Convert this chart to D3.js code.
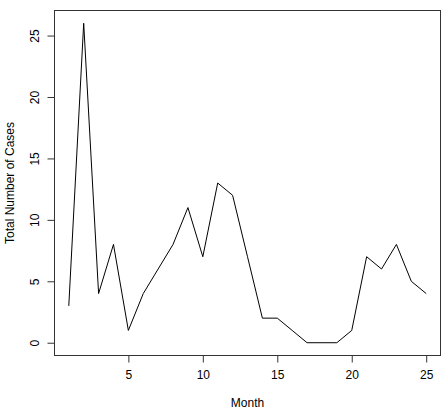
<!DOCTYPE html>
<html>
<head>
<meta charset="utf-8">
<script src="https://cdn.jsdelivr.net/npm/d3@7"></script>
<style>
  html, body { margin: 0; padding: 0; background: #fff; }
  svg { display: block; font-family: "Liberation Sans", Arial, sans-serif; }
</style>
</head>
<body>
<div id="chart"></div>
<script>
const months = d3.range(1, 26)
const cases = [3, 26, 4, 8, 1, 4, 6, 8, 11, 7, 13, 12, 7, 2, 2, 1, 0, 0, 0, 1, 7, 6, 8, 5, 4]
const xTicks = [5, 10, 15, 20, 25]
const yTicks = [0, 5, 10, 15, 20, 25]

const width = 448, height = 410
const box = { left: 54.5, right: 440.5, top: 10.5, bottom: 355.5 }

const svg = d3.select('#chart').append('svg')
  .attr('width', width)
  .attr('height', height)

// R-style 4% axis extension
const x = d3.scaleLinear().domain([0.04, 25.96]).range([box.left, box.right])
const y = d3.scaleLinear().domain([-1.04, 27.04]).range([box.bottom, box.top])

// Plot frame
svg.append('rect')
  .attr('x', box.left).attr('y', box.top)
  .attr('width', box.right - box.left)
  .attr('height', box.bottom - box.top)
  .attr('fill', 'none')
  .attr('stroke', '#333')
  .attr('stroke-width', 1)

// X axis
const xAxis = svg.append('g')
  .attr('transform', `translate(0,${box.bottom})`)
  .call(d3.axisBottom(x).tickValues(xTicks).tickSize(7).tickPadding(8))
xAxis.select('.domain').attr('d', `M${Math.round(x(5)) + 0.5},0H${Math.round(x(25)) + 0.5}`).attr('stroke', '#333')
xAxis.selectAll('.tick line').attr('stroke', '#333')
xAxis.selectAll('text').attr('font-size', 12).attr('fill', '#000')
  .attr('font-family', '"Liberation Sans", Arial, sans-serif')

// Y axis
const yAxis = svg.append('g')
  .attr('transform', `translate(${box.left},0)`)
  .call(d3.axisLeft(y).tickValues(yTicks).tickSize(7))
yAxis.select('.domain').attr('d', `M0,${y(0)}V${y(25)}`).attr('stroke', '#333')
yAxis.selectAll('.tick line').attr('stroke', '#333')
yAxis.selectAll('text')
  .attr('font-size', 12).attr('fill', '#000')
  .attr('font-family', '"Liberation Sans", Arial, sans-serif')
  .attr('x', null).attr('dy', null)
  .attr('text-anchor', 'middle')
  .attr('transform', 'translate(-16,0) rotate(-90)')

// Data line
svg.append('path')
  .datum(months.map((m, i) => [m, cases[i]]))
  .attr('fill', 'none')
  .attr('stroke', '#000')
  .attr('stroke-width', 1)
  .attr('stroke-linejoin', 'miter')
  .attr('d', d3.line().x(d => x(d[0])).y(d => y(d[1])))

// Axis titles
svg.append('text')
  .attr('x', (box.left + box.right) / 2)
  .attr('y', 407)
  .attr('text-anchor', 'middle')
  .attr('font-size', 12)
  .text('Month')

svg.append('text')
  .attr('transform', `translate(14,${(box.top + box.bottom) / 2}) rotate(-90)`)
  .attr('text-anchor', 'middle')
  .attr('font-size', 12)
  .text('Total Number of Cases')
</script>
</body>
</html>
